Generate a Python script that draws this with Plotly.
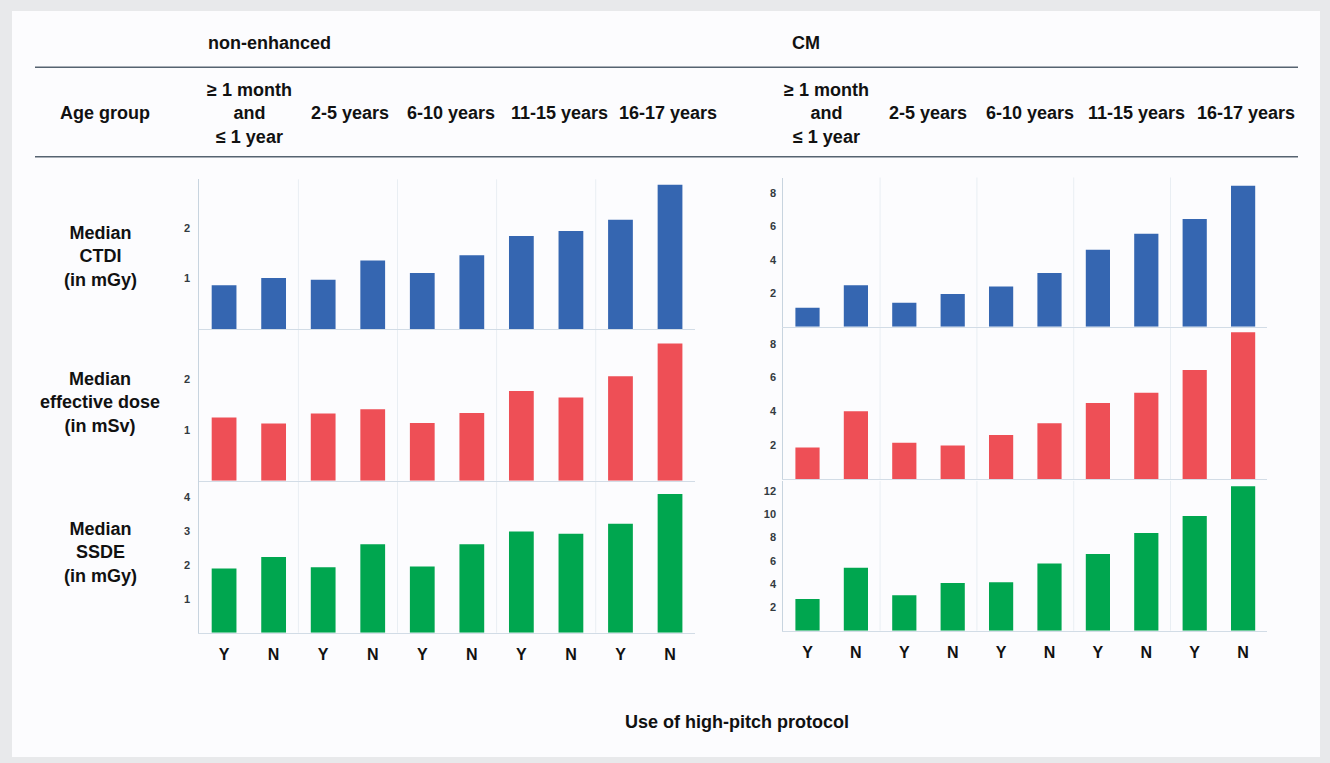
import plotly.graph_objects as go

W, H = 1330, 763

# ---- data -------------------------------------------------------------
contrast_groups = ["non-enhanced", "CM"]
age_groups = [
    ["≥ 1 month", "and", "≤ 1 year"],
    ["2-5 years"],
    ["6-10 years"],
    ["11-15 years"],
    ["16-17 years"],
]
protocol = ["Y", "N"]  # high-pitch protocol used: yes / no
metric_labels = [
    ["Median", "CTDI", "(in mGy)"],
    ["Median", "effective dose", "(in mSv)"],
    ["Median", "SSDE", "(in mGy)"],
]

# non-enhanced scans, ordered Y, N per age group
ctdi_nonenh = [0.87, 1.01, 0.98, 1.36, 1.11, 1.46, 1.84, 1.94, 2.16, 2.85]
dose_nonenh = [1.24, 1.12, 1.32, 1.40, 1.13, 1.33, 1.76, 1.63, 2.05, 2.69]
ssde_nonenh = [1.89, 2.23, 1.93, 2.61, 1.95, 2.61, 2.98, 2.92, 3.21, 4.09]

# contrast-medium scans
ctdi_cm = [1.14, 2.48, 1.44, 1.96, 2.40, 3.22, 4.60, 5.56, 6.44, 8.44]
dose_cm = [1.86, 4.00, 2.15, 1.98, 2.60, 3.30, 4.50, 5.10, 6.45, 8.68]
ssde_cm = [2.72, 5.40, 3.03, 4.09, 4.15, 5.75, 6.57, 8.38, 9.82, 12.38]

left_ticks = [[1, 2], [1, 2], [1, 2, 3, 4]]
right_ticks = [[2, 4, 6, 8], [2, 4, 6, 8], [2, 4, 6, 8, 10, 12]]

# ---- styling ----------------------------------------------------------
metric_colors = ["#3566b1", "#ee4f56", "#00a64f"]
FONT = "Liberation Sans, Arial, sans-serif"

series = [[ctdi_nonenh, dose_nonenh, ssde_nonenh], [ctdi_cm, dose_cm, ssde_cm]]
ticks = [left_ticks, right_ticks]

# panel geometry in pixels
x_dom_px = [(199.3, 694.8), (783.3, 1267.3)]
y_dom_px = [
    [(179.3, 329.3), (329.3, 480.7), (480.7, 632.7)],
    [(177.5, 326.7), (328.0, 479.0), (481.0, 630.7)],
]
y_ranges = [[2.96, 2.97, 4.48], [8.93, 8.93, 12.83]]


def px(xp):
    return xp / W


def py(yp):
    return 1 - yp / H


def bold_lines(lines):
    return "<br>".join(f"<b>{s}</b>" for s in lines)


fig = go.Figure()

n_bars = len(age_groups) * len(protocol)
xpos = list(range(n_bars))
xlabels = [protocol[i % len(protocol)] for i in range(n_bars)]

shapes = []
layout_axes = {}
k = 0
for c in range(2):
    for m in range(3):
        k += 1
        xa = "x" if k == 1 else f"x{k}"
        ya = "y" if k == 1 else f"y{k}"
        fig.add_trace(go.Bar(
            x=xpos, y=series[c][m], xaxis=xa, yaxis=ya,
            marker=dict(color=metric_colors[m], line=dict(width=0)),
            showlegend=False, hoverinfo="y",
        ))
        x0, x1 = x_dom_px[c]
        ytop, ybot = y_dom_px[c][m]
        bottom_row = (m == 2)
        layout_axes[f"xaxis{k}"] = dict(
            domain=[px(x0), px(x1)], anchor=ya, range=[-0.5, n_bars - 0.5],
            showline=True, linecolor="#d2dce6", linewidth=1,
            showgrid=False, zeroline=False, ticks="",
            tickmode="array", tickvals=xpos,
            ticktext=xlabels if bottom_row else [""] * n_bars,
            showticklabels=bottom_row,
            tickfont=dict(family=FONT, size=16, color="#111111", weight="bold"),
            ticklabelstandoff=7, fixedrange=True,
        )
        layout_axes[f"yaxis{k}"] = dict(
            domain=[py(ybot), py(ytop)], anchor=xa, range=[0, y_ranges[c][m]],
            showline=True, linecolor="#c8d4df", linewidth=1,
            showgrid=False, zeroline=False, ticks="",
            tickmode="array", tickvals=ticks[c][m],
            tickfont=dict(family=FONT, size=11, color="#333a40", weight="bold"),
            ticklabelstandoff=6 if c == 0 else 4, fixedrange=True,
        )
        # faint separators between age groups
        for g in range(1, len(age_groups)):
            sep = g * len(protocol) - 0.5
            shapes.append(dict(
                type="line", xref=xa, yref=f"{ya} domain",
                x0=sep, x1=sep, y0=0, y1=1,
                line=dict(color="#e9eef3", width=1), layer="below",
            ))

# inner light panel and header rules
shapes.insert(0, dict(type="rect", xref="paper", yref="paper",
                      x0=px(12), x1=px(1320), y0=py(757), y1=py(11),
                      fillcolor="#fcfcfe", line=dict(width=0), layer="below"))
for yl in (67.3, 156.7):
    shapes.append(dict(type="line", xref="paper", yref="paper",
                       x0=px(35), x1=px(1298), y0=py(yl), y1=py(yl),
                       line=dict(color="#566370", width=1.5)))

annotations = []


def add_text(lines, xp, yp, size=18):
    annotations.append(dict(
        text=bold_lines(lines), x=px(xp), y=py(yp), xref="paper", yref="paper",
        xanchor="center", yanchor="middle", showarrow=False, align="center",
        font=dict(family=FONT, size=size, color="#111111"),
    ))


# contrast group titles
add_text([contrast_groups[0]], 269, 43)
add_text([contrast_groups[1]], 806, 43)

# age-group header row
add_text(["Age group"], 105, 113)
age_x = [[249, 350, 451, 559, 668], [826, 928, 1030, 1136, 1246]]
for c in range(2):
    for g, lab in enumerate(age_groups):
        add_text(lab, age_x[c][g], 113)

# metric row labels
for m, yc in enumerate([256, 403, 552]):
    add_text(metric_labels[m], 100, yc)

# common x title
add_text(["Use of high-pitch protocol"], 737, 722)

fig.update_layout(
    width=W, height=H, margin=dict(l=0, r=0, t=0, b=0),
    paper_bgcolor="#e8e9eb", plot_bgcolor="rgba(0,0,0,0)",
    bargap=0.5, shapes=shapes, annotations=annotations,
    showlegend=False, **layout_axes,
)

fig.write_html("out.html", config={"displayModeBar": False})
